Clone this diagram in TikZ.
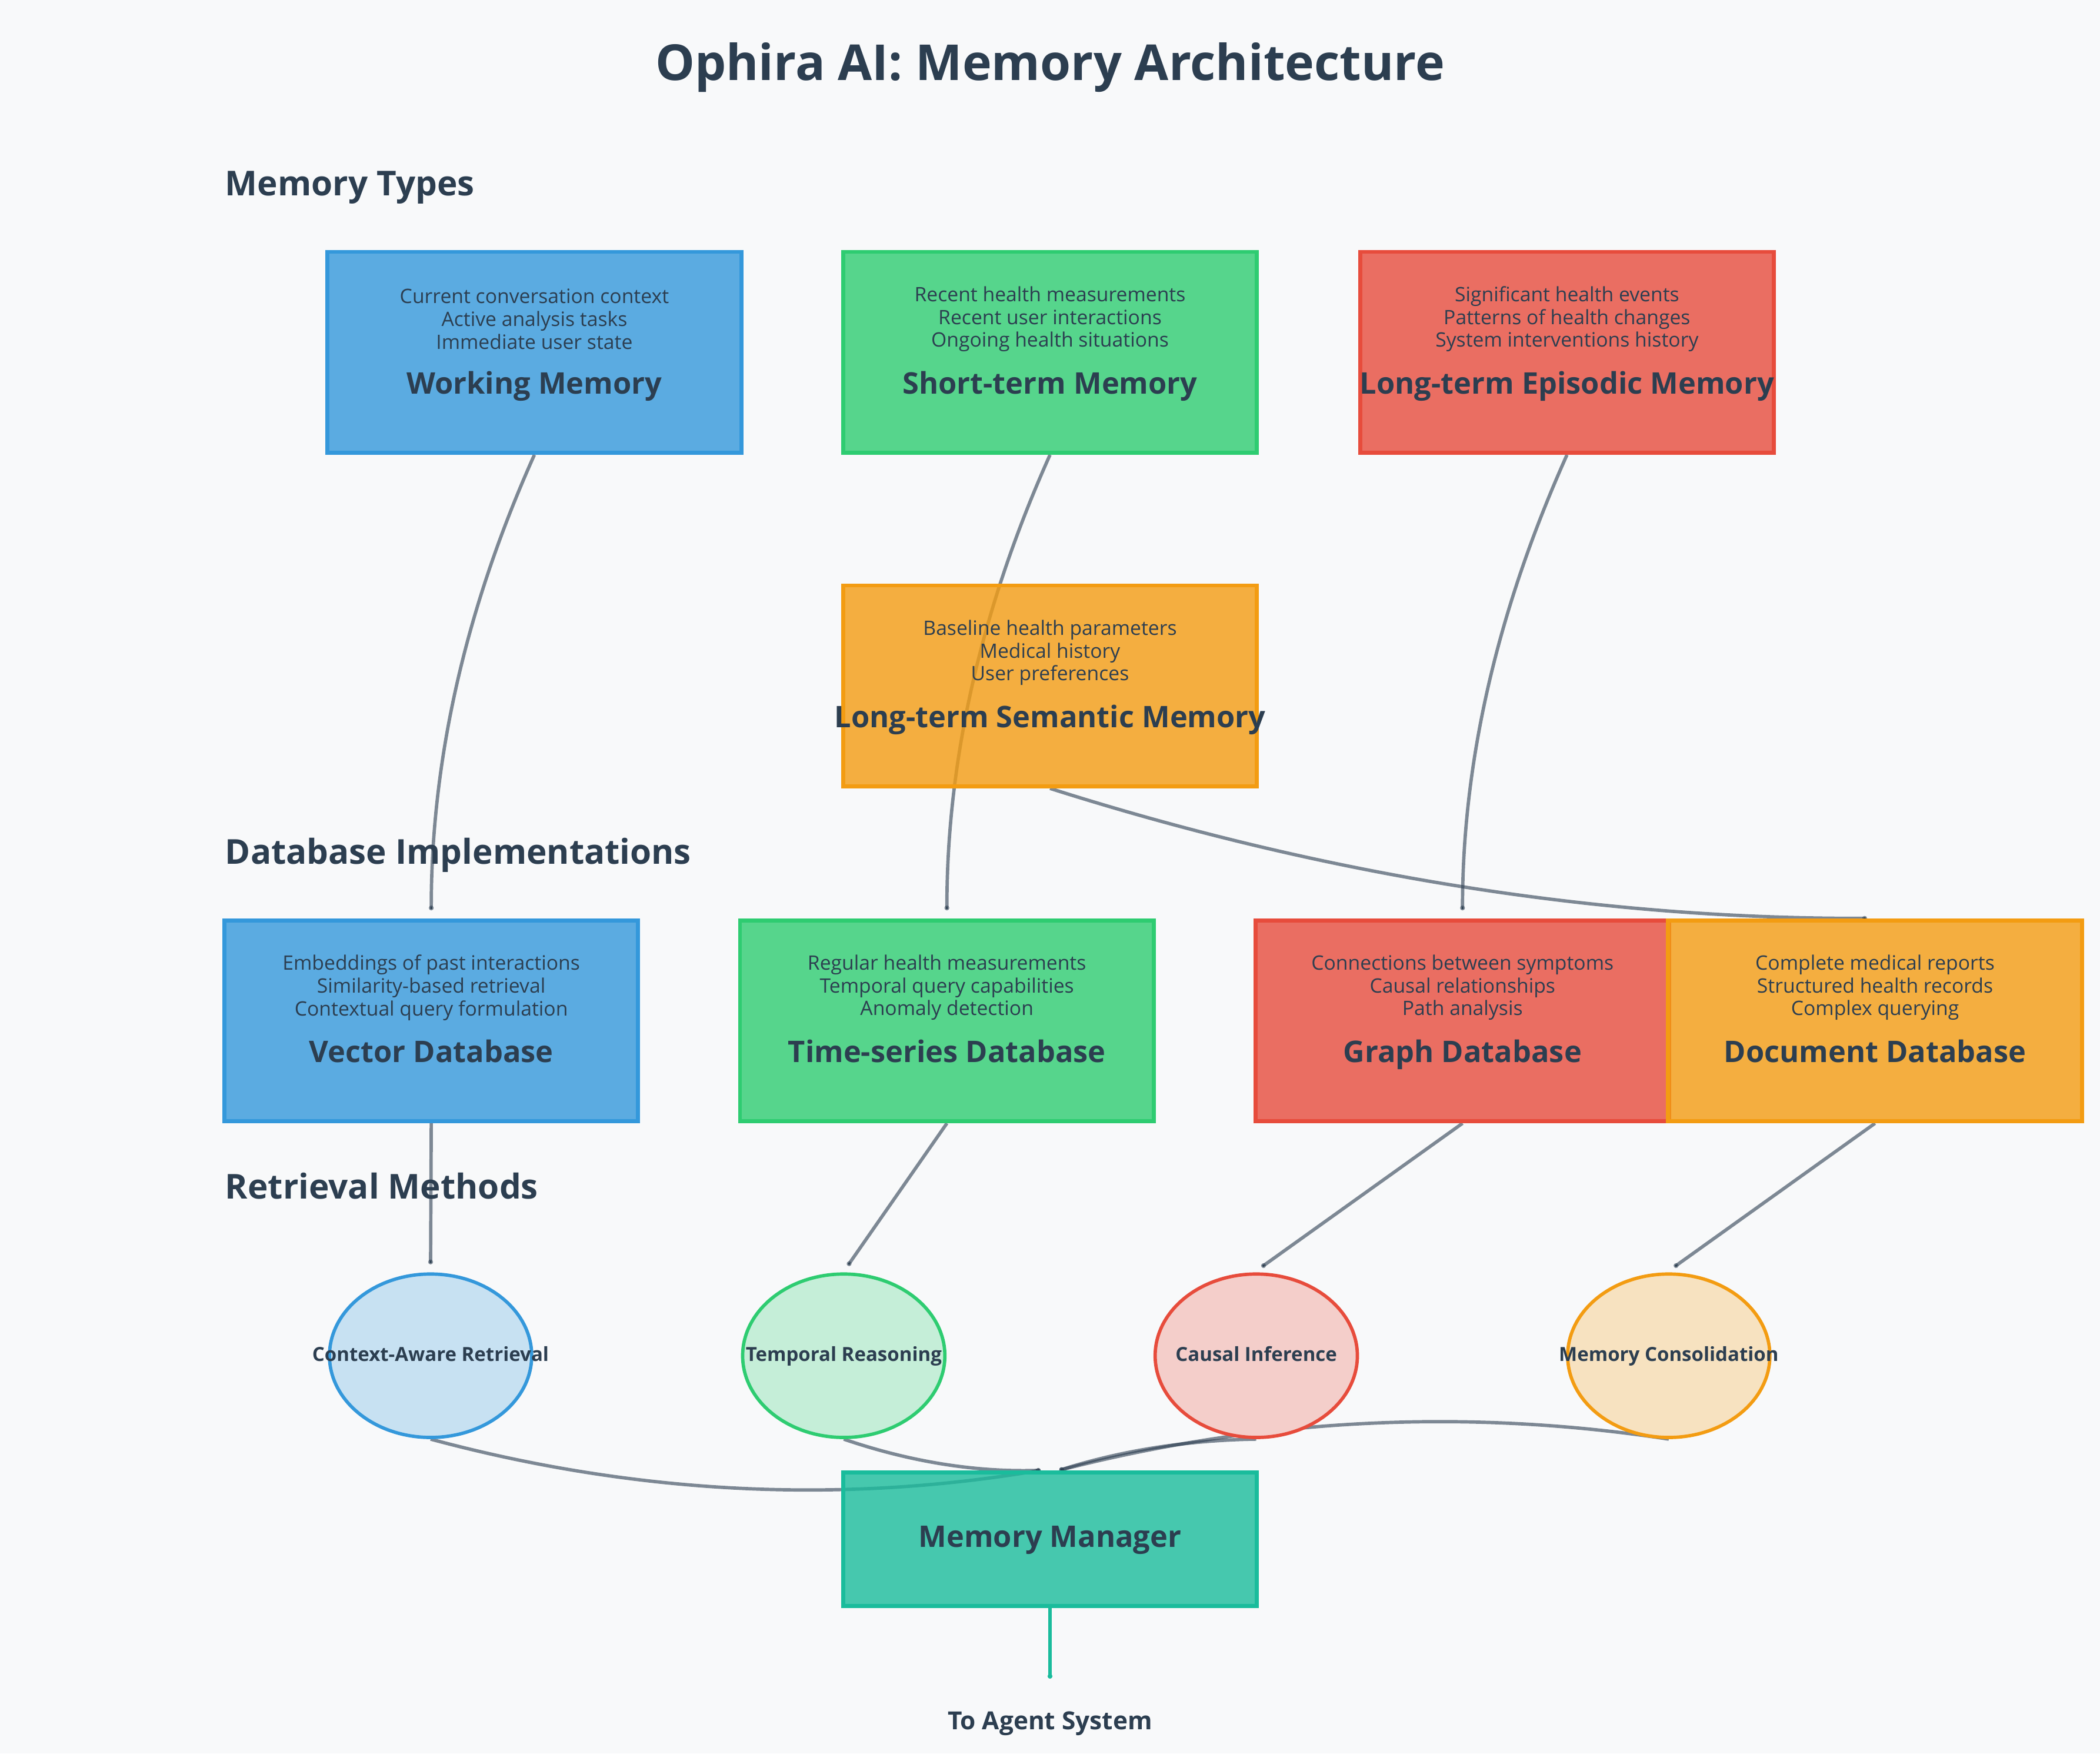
\documentclass[tikz,border=0pt]{standalone}
\usepackage{fontspec}
\setmainfont{Open Sans}
\usetikzlibrary{positioning,arrows.meta,shapes.geometric}
\definecolor{paper}{HTML}{F8F9FA}
\definecolor{ink}{HTML}{2C3E50}
\definecolor{mblue}{HTML}{3498DB}
\definecolor{mgreen}{HTML}{2ECC71}
\definecolor{mred}{HTML}{E74C3C}
\definecolor{morange}{HTML}{F39C12}
\definecolor{mteal}{HTML}{1ABC9C}
\pgfdeclarelayer{background}
\pgfsetlayers{background,main}

\begin{document}
\begin{tikzpicture}[x=1pt, y=-1pt,
  membox/.style={draw=#1, fill=#1, fill opacity=0.8, line width=3pt, minimum width=309pt, minimum height=150pt, inner sep=0pt},
  method/.style={ellipse, draw=#1, fill=#1!25!paper, line width=2.5pt, minimum width=151pt, minimum height=122pt, inner sep=0pt},
  wire/.style={draw=ink, draw opacity=0.6, line width=2.5pt, -{Circle[length=3.5pt,width=3.5pt]}},
  heading/.style={anchor=base west, inner sep=0pt, text=ink, font=\fontsize{25.6}{31}\selectfont\bfseries},
  desc/.style={align=center, inner sep=0pt, text=ink, font=\fontsize{14.8}{17}\selectfont},
  boxtitle/.style={anchor=base, inner sep=0pt, text=ink, font=\fontsize{22.2}{27}\selectfont\bfseries},
  methodlabel/.style={anchor=base, inner sep=0pt, text=ink, font=\fontsize{14.5}{17}\selectfont\bfseries}]

  % canvas
  \useasboundingbox (0,0) rectangle (1568,1309);
  \begin{pgfonlayer}{background}
    \fill[paper] (0,0) rectangle (1568,1309);
  \end{pgfonlayer}

  % title and section headings
  \node[anchor=base, inner sep=0pt, text=ink, font=\fontsize{37}{44}\selectfont\bfseries] (title) at (784,60) {Ophira AI: Memory Architecture};
  \node[heading] (types) at (168,146) {Memory Types};
  \node[heading] (impl) at (168,645) {Database Implementations};
  \node[heading] (retr) at (168,895) {Retrieval Methods};

  % memory types and databases
  \foreach \nm/\xx/\yy/\col/\ttl/\lines in {
      wm/399/263/mblue/Working Memory/{Current conversation context\\Active analysis tasks\\Immediate user state},
      stm/784/263/mgreen/Short-term Memory/{Recent health measurements\\Recent user interactions\\Ongoing health situations},
      epi/1170/263/mred/Long-term Episodic Memory/{Significant health events\\Patterns of health changes\\System interventions history},
      sem/784/512/morange/Long-term Semantic Memory/{Baseline health parameters\\Medical history\\User preferences},
      vec/322/762/mblue/Vector Database/{Embeddings of past interactions\\Similarity-based retrieval\\Contextual query formulation},
      tsdb/707/762/mgreen/Time-series Database/{Regular health measurements\\Temporal query capabilities\\Anomaly detection},
      gdb/1092/762/mred/Graph Database/{Connections between symptoms\\Causal relationships\\Path analysis},
      ddb/1400/762/morange/Document Database/{Complete medical reports\\Structured health records\\Complex querying}} {
    \node[membox=\col] (\nm) at (\xx,\yy) {};
    \node[desc] (\nm-desc) at ([yshift=24.8pt]\nm.center) {\lines};
    \node[boxtitle] (\nm-title) at ([yshift=-31pt]\nm.center) {\ttl};
  }

  % retrieval methods
  \foreach \nm/\xx/\col/\ttl in {car/321.5/mblue/Context-Aware Retrieval, tr/630/mgreen/Temporal Reasoning,
      ci/938/mred/Causal Inference, mc/1246/morange/Memory Consolidation} {
    \node[method=\col] (\nm) at (\xx,1012) {};
    \node[methodlabel] (\nm-label) at ([yshift=-4pt]\nm.center) {\ttl};
  }

  % manager and output
  \node[membox=mteal, minimum height=100pt] (mm) at (784,1149) {};
  \node[boxtitle] (mm-title) at ([yshift=-6pt]mm.center) {Memory Manager};
  \coordinate (agent) at (784,1253);
  \node[anchor=base, inner sep=0pt, text=ink, font=\fontsize{18.6}{22}\selectfont\bfseries] (agent-label) at (784,1291) {To Agent System};

  % connectors (under the boxes)
  \begin{pgfonlayer}{background}
    \draw[wire] (wm.south) .. controls (347.7,454) and (322,567) .. ([yshift=6pt]vec.north);
    \draw[wire] (stm.south) .. controls (732.7,454) and (707,567) .. ([yshift=6pt]tsdb.north);
    \draw[wire] (epi.south) .. controls (1118.7,454) and (1092,567) .. ([yshift=6pt]gdb.north);
    \draw[wire] (sem.south) .. controls (987,653) and (1191,686) .. ([xshift=-6pt]ddb.north);
    \draw[wire] (vec.south) -- ([yshift=6pt]car.north);
    \draw[wire] (tsdb.south) -- ([xshift=3pt,yshift=5pt]tr.north);
    \draw[wire] (gdb.south) -- ([xshift=4pt,yshift=4pt]ci.north);
    \draw[wire] (ddb.south) -- ([xshift=4pt,yshift=4pt]mc.north);
    \draw[wire] (car.south) .. controls (473,1115) and (625,1123) .. ([xshift=-7pt]mm.north);
    \draw[wire] (tr.south) .. controls (679,1091) and (728,1099) .. ([xshift=-7pt]mm.north);
    \draw[wire] (ci.south) .. controls (889,1075) and (840,1082) .. ([xshift=7pt]mm.north);
    \draw[wire] (mc.south) .. controls (1094,1051) and (942,1059) .. ([xshift=7pt]mm.north);
    \draw[wire, draw=mteal, draw opacity=1, line width=2.5pt] (mm.south) -- (agent);
  \end{pgfonlayer}
\end{tikzpicture}
\end{document}
